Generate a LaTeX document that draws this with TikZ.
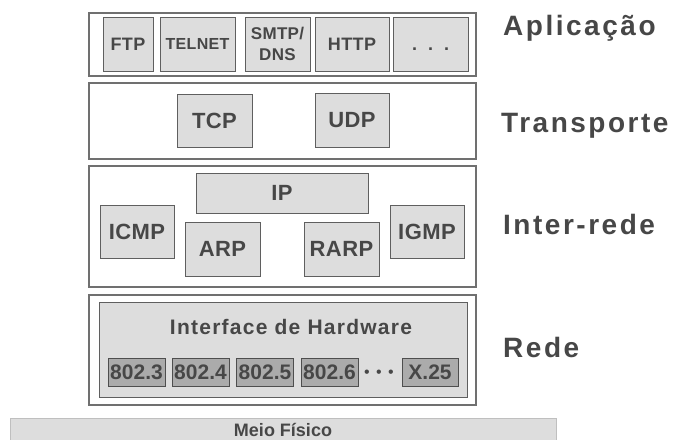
\documentclass[tikz,border=0pt]{standalone}
\usepackage{fontspec}
\setmainfont{Liberation Sans}
\newfontfamily\myboxfont[LetterSpace=2]{Liberation Sans}
\newfontfamily\mywidefont[LetterSpace=6]{Liberation Sans}
\newfontfamily\mylayerfont[LetterSpace=9]{Liberation Sans}
\usetikzlibrary{positioning, fit}
\definecolor{mytextcolor}{HTML}{474747}
\definecolor{myboxcolor}{HTML}{DDDDDD}
\definecolor{mydarkcolor}{HTML}{ABABAB}
\definecolor{myframecolor}{HTML}{707070}
\tikzset{mylayer/.style = {draw=myframecolor,line width=1.2pt,fill=white,inner sep=0pt},
	myproto/.style = {draw=myframecolor!85!black,line width=0.8pt,fill=myboxcolor,
		text=mytextcolor,inner sep=0pt,align=center,
		font=\myboxfont\bfseries\fontsize{#1}{21}\selectfont},
	myproto/.default = 22,
	mylink/.style = {myproto=21,fill=mydarkcolor,draw=myframecolor!70!black,
		minimum width=57pt,minimum height=28pt,font=\bfseries\fontsize{21}{21}\selectfont},
	mylayername/.style = {anchor=base west,text=mytextcolor,inner sep=0pt,
		font=\mylayerfont\bfseries\fontsize{28}{28}\selectfont}}
\NewDocumentCommand{\fprotocol}{O{22} m m m m m}{%
	\node[myproto=#1,minimum width=#4 pt,minimum height=#5 pt] (#2) at (#3) {#6};
}

\begin{document}
\begin{tikzpicture}[x=1pt,y=-1pt]
\useasboundingbox (0,0) rectangle (676,439);
% camadas
\node[mylayer,minimum width=387pt,minimum height=63pt] (app) at (282.5,44.5) {};
\node[mylayer,minimum width=387pt,minimum height=76pt] (transp) at (282.5,121) {};
\node[mylayer,minimum width=387pt,minimum height=121pt] (inter) at (282.5,226.5) {};
\node[mylayer,minimum width=387pt,minimum height=110pt] (rede) at (282.5,350) {};
% aplicacao
\fprotocol[18]{ftp}{128,44}{50}{54}{FTP}
\fprotocol[16]{telnet}{197.5,44}{75}{54}{TELNET}
\fprotocol[17]{smtp}{277.5,44}{65}{54}{SMTP/\\DNS}
\fprotocol[18]{http}{352,44}{74}{54}{HTTP}
\fprotocol[18]{adots}{430.5,44}{75}{54}{\vphantom{H}.\hspace{11pt}.\hspace{11pt}.}
% transporte
\fprotocol{tcp}{214.5,120.5}{75}{53}{TCP}
\fprotocol{udp}{352,120}{74}{54}{UDP}
% inter-rede
\fprotocol{ip}{282,193}{172}{40}{IP}
\fprotocol{icmp}{137,231.5}{74}{53}{ICMP}
\fprotocol{arp}{222.5,249}{75}{54}{ARP}
\fprotocol{rarp}{341.5,249}{75}{54}{RARP}
\fprotocol{igmp}{427,231.5}{74}{53}{IGMP}
% rede
\node[myproto,minimum width=368pt,minimum height=95pt] (hw) at (283,349.5) {};
\node[text=mytextcolor,font=\mywidefont\bfseries\fontsize{21}{21}\selectfont] (hwname) at (291,327) {Interface de Hardware};
\node[mylink] (e3) at (136.5,372) {802.3};
\node[mylink] (e4) at (200.5,372) {802.4};
\node[mylink] (e5) at (265,372) {802.5};
\node[mylink] (e6) at (329.5,372) {802.6};
\node[text=mytextcolor,inner sep=0pt,font=\fontsize{16}{16}\selectfont] (rdots) at (379,372) {\vphantom{8}•\hspace{6.4pt}•\hspace{6.4pt}•};
\node[mylink,minimum width=56pt] (x25) at (430,372) {X.25};
% meio fisico
\node[myproto=18,draw=myframecolor!45,font=\bfseries\fontsize{18}{18}\selectfont,
	minimum width=546pt,minimum height=24pt] (meio) at (283,430) {Meio Físico};
% nomes das camadas
\node[mylayername] (lapp) at (503,35) {Aplicação};
\node[mylayername] (ltransp) at (501,132) {Transporte};
\node[mylayername] (linter) at (503,234) {Inter-rede};
\node[mylayername] (lrede) at (503,357) {Rede};
\end{tikzpicture}
\end{document}
